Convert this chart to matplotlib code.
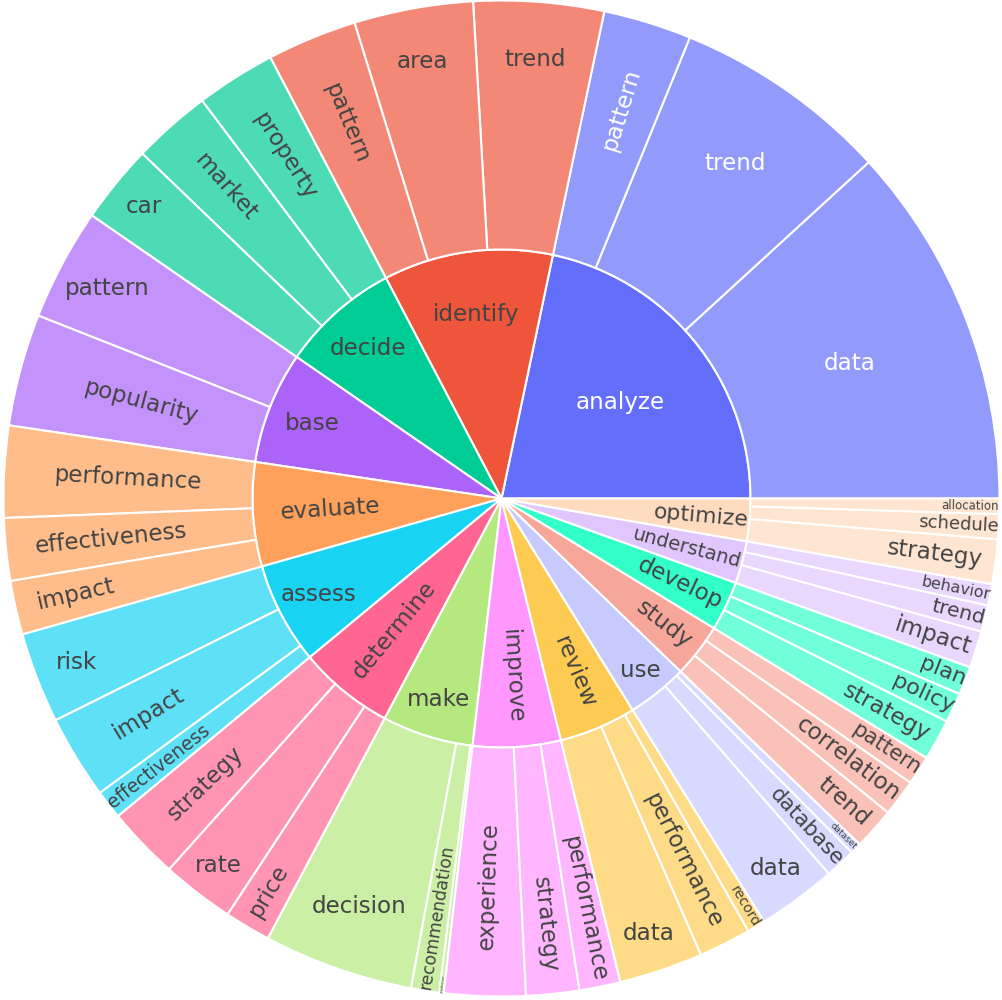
import numpy as np
import matplotlib
matplotlib.use("Agg")
import matplotlib.pyplot as plt
import matplotlib.colors as mcolors
from matplotlib.font_manager import FontProperties

# inner ring: verbs, outer ring: nouns per verb
verbs = ["analyze", "identify", "decide", "base", "evaluate", "assess", "determine",
         "make", "improve", "review", "use", "study", "develop", "understand", "optimize"]

nouns = [
    ["data", "trend", "pattern"],
    ["trend", "area", "pattern"],
    ["property", "market", "car"],
    ["pattern", "popularity"],
    ["performance", "effectiveness", "impact"],
    ["risk", "impact", "effectiveness"],
    ["strategy", "rate", "price"],
    ["decision", "recommendation", "prediction"],
    ["experience", "strategy", "performance"],
    ["data", "performance", "record"],
    ["data", "database", "dataset"],
    ["trend", "correlation", "pattern"],
    ["strategy", "policy", "plan"],
    ["impact", "trend", "behavior"],
    ["strategy", "schedule", "allocation"],
]

counts = [
    [42.5, 25.3, 10.3],
    [15.2, 13.9, 10.5],
    [9.3, 9.2, 9.2],
    [13.1, 13.1],
    [10.7, 7.3, 6.3],
    [10.6, 9.8, 3.4],
    [8.5, 8.5, 5.4],
    [17.5, 3.3, 0.5],
    [9.5, 6.2, 4.8],
    [9.8, 6.1, 2.1],
    [9.3, 3.6, 1.3],
    [4.9, 4.3, 3.4],
    [4.8, 3.5, 3.3],
    [4.3, 3.1, 2.5],
    [5.2, 2.9, 1.8],
]

colors = ["#636EFA", "#EF553B", "#00CC96", "#AB63FA", "#FFA15A", "#19D3F3",
          "#FF6692", "#B6E880", "#FF97FF", "#FECB52",
          "#C6CAFD", "#F7A799", "#33FFC9", "#E0C6FD", "#FFDBC0"]

W, H = 1003, 1000
CX, CY = 501.5, 501.5
R_IN, R_OUT = 249, 498
FONT_PX = 23
TEXTPAD = 3


def px2pt(px):
    return px * 72 / 100


def leaf_color(c, alpha=0.7):
    rgb = np.array(mcolors.to_rgb(c))
    return tuple(rgb * alpha + (1 - alpha))


def text_color(c):
    r, g, b = [v * 255 for v in mcolors.to_rgb(c)]
    return "white" if (r * 299 + g * 587 + b * 114) / 1000 < 128 else "#444444"


def max_half(a, half, r, ring):
    q = a + 1 / (2 * np.tan(half))
    return r * min(1 / (np.sqrt(q * q + 0.5) + q), ring / (np.sqrt(a * a + ring / 2) + a))


def norm_rot(deg):
    return (deg + 90) % 180 - 90


fig = plt.figure(figsize=(W / 100, H / 100), dpi=100)
ax = fig.add_axes([0, 0, 1, 1])
renderer = fig.canvas.get_renderer()
prop = FontProperties(family="DejaVu Sans", size=px2pt(FONT_PX))


def fit_label(label, r0, r1, t0, t1):
    # same idea as plotly's inside text fitting: horizontal, radial or tangential
    w, _, _ = renderer.get_text_width_height_descent(label, prop, ismath=False)
    h = 1.164 * FONT_PX
    half = 0.5 * min(np.radians(t1 - t0), np.pi)
    mid = 0.5 * (t0 + t1)
    ring = 1 - r0 / r1
    rins = max(0, min(1 / (1 + 1 / np.sin(half)), ring / 2))
    sc = rins * r1 * 2 / np.hypot(w, h)
    if sc >= 1:
        return 1, 1 - rins, 0
    opts = [(sc, 1 - rins, 0)]
    rr = max(0, r1 - 2 * TEXTPAD)
    for a, dim, rot in ((w / h, h, mid), (h / w, w, mid + 90)):
        s = max_half(a, half, rr, ring)
        opts.append((2 * s / dim, np.cos(s / rr) - a * s / rr, norm_rot(rot)))
    return max(opts, key=lambda o: o[0])


def draw_label(label, r0, r1, t0, t1, col):
    sc, rc, rot = fit_label(label, r0, r1, t0, t1)
    mid = np.radians(0.5 * (t0 + t1))
    rad = rc * r1
    ax.text(CX + rad * np.cos(mid), CY + rad * np.sin(mid), label,
            rotation=rot, rotation_mode="anchor", ha="center", va="center",
            fontsize=px2pt(FONT_PX * min(1, sc)), color=col, family="DejaVu Sans")


verb_totals = [sum(c) for c in counts]
leaf_values = [v for c in counts for v in c]
leaf_colors = [leaf_color(colors[i]) for i, c in enumerate(counts) for _ in c]
leaf_parent = [i for i, c in enumerate(counts) for _ in c]
leaf_labels = [n for ns in nouns for n in ns]

inner, _ = ax.pie(verb_totals, radius=R_IN, center=(CX, CY), startangle=0,
                  counterclock=True, colors=colors,
                  wedgeprops=dict(edgecolor="white", linewidth=1.5))
outer, _ = ax.pie(leaf_values, radius=R_OUT, center=(CX, CY), startangle=0,
                  counterclock=True, colors=leaf_colors,
                  wedgeprops=dict(width=R_OUT - R_IN, edgecolor="white", linewidth=1.5))

for wdg, verb, col in zip(inner, verbs, colors):
    draw_label(verb, 0, R_IN, wdg.theta1, wdg.theta2, text_color(col))

for wdg, noun, p in zip(outer, leaf_labels, leaf_parent):
    draw_label(noun, R_IN, R_OUT, wdg.theta1, wdg.theta2, text_color(colors[p]))

ax.set_xlim(0, W)
ax.set_ylim(0, H)
ax.set_aspect("equal")
ax.axis("off")

fig.savefig("out.png", dpi=100)
